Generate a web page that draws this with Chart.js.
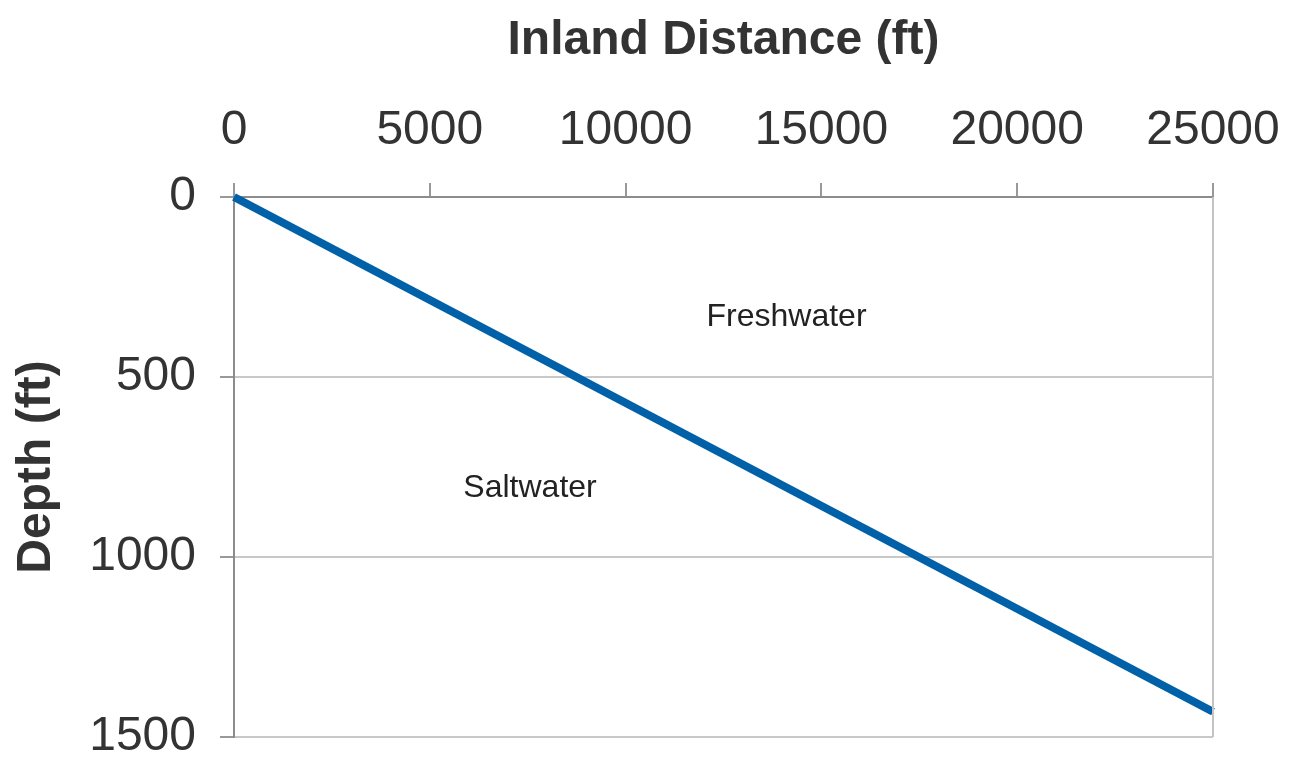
<!DOCTYPE html>
<html>
<head>
<meta charset="utf-8">
<script src="https://cdn.jsdelivr.net/npm/chart.js@4/dist/chart.umd.min.js"></script>
<style>
html,body{margin:0;padding:0;background:#fff;}
#wrap{width:1291px;height:764px;}
</style>
</head>
<body>
<div id="wrap"><canvas id="c" width="1291" height="764"></canvas></div>
<script>
const distance = [0, 25000];
const depth = [0, 1430];
const xTicks = [0, 5000, 10000, 15000, 20000, 25000];
const yTicks = [0, 500, 1000, 1500];
const labelsText = ["Freshwater", "Saltwater"];
const labelsX = [14110, 7560];
const labelsY = [334, 808];

const FONT = '"Liberation Sans", Arial, sans-serif';

const annotate = {
  id: 'annotate',
  afterDatasetsDraw(chart) {
    const ctx = chart.ctx, xs = chart.scales.x, ys = chart.scales.y, a = chart.chartArea;
    ctx.save();
    ctx.strokeStyle = '#c4c4c4';
    ctx.lineWidth = 2;
    ctx.beginPath();
    ctx.moveTo(a.right, a.top);
    ctx.lineTo(a.right, a.bottom);
    ctx.stroke();
    ctx.font = '32px ' + FONT;
    ctx.fillStyle = '#222';
    ctx.textAlign = 'center';
    ctx.textBaseline = 'middle';
    labelsText.forEach((t, i) => {
      ctx.fillText(t, xs.getPixelForValue(labelsX[i]), ys.getPixelForValue(labelsY[i]));
    });
    ctx.restore();
  }
};

new Chart(document.getElementById('c'), {
  type: 'line',
  data: {
    datasets: [{
      data: distance.map((d, i) => ({x: d, y: depth[i]})),
      borderColor: '#0060a8',
      borderWidth: 8,
      pointRadius: 0,
      tension: 0,
      clip: false
    }]
  },
  options: {
    responsive: false,
    animation: false,
    devicePixelRatio: 1,
    layout: {padding: {left: 3, right: 78, top: 8, bottom: 27}},
    plugins: {legend: {display: false}, tooltip: {enabled: false}},
    scales: {
      x: {
        type: 'linear', position: 'top', min: 0, max: 25000,
        afterBuildTicks: s => { s.ticks = xTicks.map(v => ({value: v})); },
        afterFit: s => { s.paddingLeft = 0; s.paddingRight = 0; s.height = 189; },
        ticks: {font: {size: 48, family: FONT}, color: '#333', padding: 23, maxRotation: 0, autoSkip: false,
                callback: v => String(v)},
        grid: {drawOnChartArea: false, tickLength: 14, color: '#999', lineWidth: 2},
        border: {color: '#8c8c8c', width: 2},
        title: {display: true, text: 'Inland Distance (ft)', font: {size: 48, weight: 'bold', family: FONT}, color: '#333', padding: {top: 4, bottom: 33}}
      },
      y: {
        type: 'linear', reverse: true, min: 0, max: 1500,
        afterBuildTicks: s => { s.ticks = yTicks.map(v => ({value: v})); },
        afterFit: s => { s.paddingTop = 0; s.paddingBottom = 0; s.width = 231; },
        ticks: {font: {size: 48, family: FONT}, color: '#333', padding: 24, autoSkip: false,
                callback: v => String(v)},
        grid: {tickLength: 14, color: '#c8c8c8', tickColor: '#999', lineWidth: 2},
        border: {color: '#8c8c8c', width: 2},
        title: {display: true, text: 'Depth (ft)', font: {size: 48, weight: 'bold', family: FONT}, color: '#333', padding: {top: 5, bottom: 23}}
      }
    }
  },
  plugins: [annotate]
});
</script>
</body>
</html>
